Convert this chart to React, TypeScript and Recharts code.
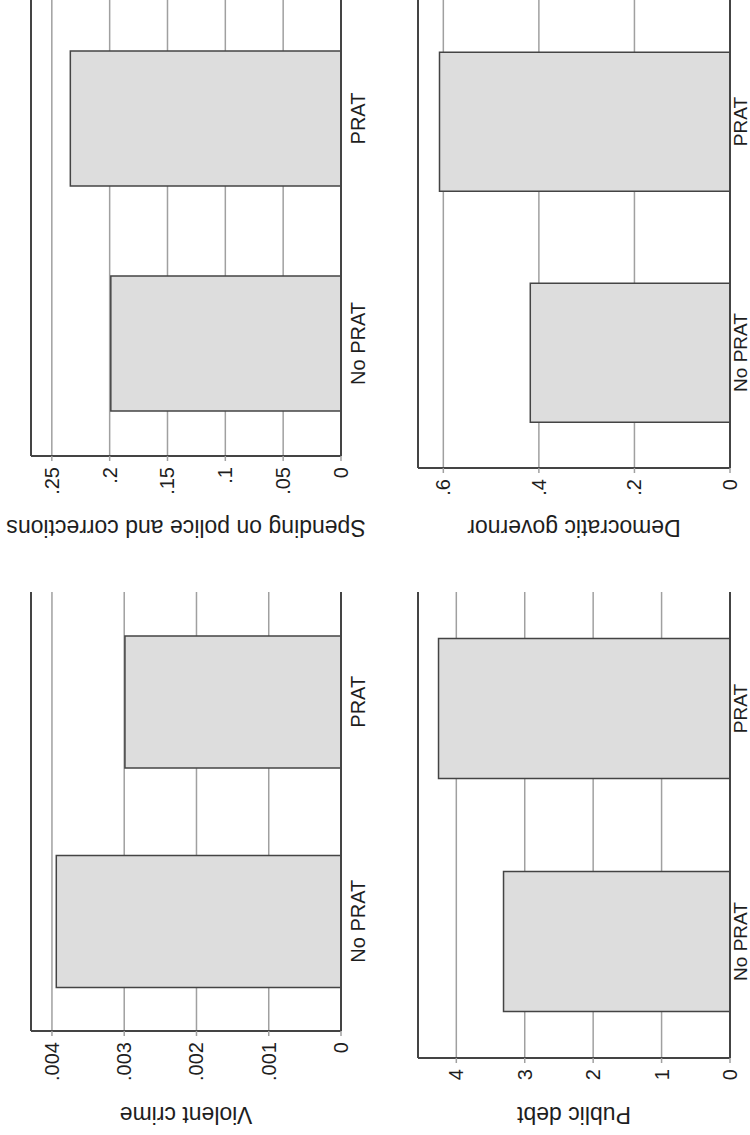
import {
  Bar,
  BarChart,
  CartesianGrid,
  Label,
  ReferenceLine,
  XAxis,
  YAxis,
} from "recharts";

// categories, bottom to top in each panel
const categories = ["No PRAT", "PRAT"];

// means
const violentCrime = [0.00394, 0.00299];
const policeSpending = [0.199, 0.234];
const publicDebt = [3.31, 4.26];
const democraticGovernor = [0.418, 0.608];

// value axis ticks and their Stata-style labels
const violentTicks = [0, 0.001, 0.002, 0.003, 0.004];
const violentTickLabels = ["0", ".001", ".002", ".003", ".004"];
const spendingTicks = [0, 0.05, 0.1, 0.15, 0.2, 0.25];
const spendingTickLabels = ["0", ".05", ".1", ".15", ".2", ".25"];
const debtTicks = [0, 1, 2, 3, 4];
const debtTickLabels = ["0", "1", "2", "3", "4"];
const governorTicks = [0, 0.2, 0.4, 0.6];
const governorTickLabels = ["0", ".2", ".4", ".6"];

const FONT = "'Liberation Sans', Arial, Helvetica, sans-serif";
const INK = "#1e1e1e";
const FRAME = "#444444";
const GRID = "#a0a0a0";
const BAR_FILL = "#dddddd";

interface PanelProps {
  title: string;
  values: number[];
  ticks: number[];
  tickLabels: string[];
  max: number;
  left: number;
  top: number;
  width: number;
  height: number;
  plotLeft: number;
  plotTop: number;
  axisHeight: number;
  catWidth: number;
  catGap: number;
  catFont: number;
  titleGap: number;
  padTop: number;
  closedTop: boolean;
}

// one panel of the (rotated) Stata combine graph
function Panel(p: PanelProps) {
  const data = categories.map((cat, i) => ({ cat, value: p.values[i] }));

  const valueTick = (t: any) => {
    const i = p.ticks.indexOf(t.payload.value);
    return (
      <text
        transform={`translate(${t.x},${t.y}) rotate(-90)`}
        textAnchor="end"
        dominantBaseline="central"
        fontSize={20}
        fill={INK}
        fontFamily={FONT}
      >
        {p.tickLabels[i]}
      </text>
    );
  };

  const catTick = (t: any) => (
    <text
      transform={`translate(${t.x},${t.y}) rotate(-90)`}
      textAnchor="middle"
      dominantBaseline="central"
      fontSize={p.catFont}
      fill={INK}
      fontFamily={FONT}
    >
      {t.payload.value}
    </text>
  );

  const title = (lp: any) => {
    const vb = lp.viewBox;
    return (
      <text
        transform={`translate(${vb.x + vb.width / 2},${vb.y + p.titleGap}) rotate(180)`}
        textAnchor="middle"
        dominantBaseline="central"
        fontSize={23}
        fill={INK}
        fontFamily={FONT}
      >
        {p.title}
      </text>
    );
  };

  return (
    <div style={{ position: "absolute", left: p.left, top: p.top }}>
      <BarChart
        layout="vertical"
        width={p.width}
        height={p.height}
        data={data}
        margin={{ top: p.plotTop, left: p.plotLeft, right: 0, bottom: 0 }}
        barCategoryGap="20%"
      >
        <CartesianGrid horizontal={false} stroke={GRID} strokeWidth={1.5} />
        {p.closedTop && (
          <XAxis
            xAxisId="top"
            orientation="top"
            type="number"
            domain={[0, p.max]}
            reversed
            height={0}
            tick={false}
            tickLine={false}
            axisLine={{ stroke: FRAME, strokeWidth: 2 }}
          />
        )}
        <XAxis
          type="number"
          domain={[0, p.max]}
          ticks={p.ticks}
          interval={0}
          reversed
          allowDataOverflow
          height={p.axisHeight}
          tickSize={5}
          tickMargin={6}
          tickLine={{ stroke: GRID, strokeWidth: 1.5 }}
          axisLine={{ stroke: FRAME, strokeWidth: 2 }}
          tick={valueTick}
        >
          <Label content={title} />
        </XAxis>
        <YAxis
          type="category"
          dataKey="cat"
          orientation="right"
          reversed
          interval={0}
          width={p.catWidth}
          padding={{ top: p.padTop, bottom: 0 }}
          tickSize={0}
          tickMargin={p.catGap}
          tickLine={false}
          axisLine={{ stroke: FRAME, strokeWidth: 2 }}
          tick={catTick}
        />
        <ReferenceLine x={p.max} stroke={FRAME} strokeWidth={2} />
        <Bar
          dataKey="value"
          fill={BAR_FILL}
          stroke={FRAME}
          strokeWidth={1.5}
          isAnimationActive={false}
        />
      </BarChart>
    </div>
  );
}

export default function App() {
  return (
    <div
      style={{
        position: "absolute",
        left: 0,
        top: 0,
        width: 750,
        height: 1135,
        background: "#fff",
        overflow: "hidden",
      }}
    >
      <Panel
        title="Spending on police and corrections"
        values={policeSpending}
        ticks={spendingTicks}
        tickLabels={spendingTickLabels}
        max={0.268}
        left={0}
        top={0}
        width={375}
        height={560}
        plotLeft={31}
        plotTop={0}
        axisHeight={104}
        catWidth={34}
        catGap={17}
        catFont={20}
        titleGap={72}
        padTop={6}
        closedTop={false}
      />
      <Panel
        title="Democratic governor"
        values={democraticGovernor}
        ticks={governorTicks}
        tickLabels={governorTickLabels}
        max={0.653}
        left={375}
        top={0}
        width={375}
        height={560}
        plotLeft={43}
        plotTop={0}
        axisHeight={92}
        catWidth={20}
        catGap={10}
        catFont={19}
        titleGap={60}
        padTop={6}
        closedTop={false}
      />
      <Panel
        title="Violent crime"
        values={violentCrime}
        ticks={violentTicks}
        tickLabels={violentTickLabels}
        max={0.00429}
        left={0}
        top={560}
        width={375}
        height={575}
        plotLeft={31}
        plotTop={32}
        axisHeight={104}
        catWidth={34}
        catGap={17}
        catFont={20}
        titleGap={84}
        padTop={0}
        closedTop={true}
      />
      <Panel
        title="Public debt"
        values={publicDebt}
        ticks={debtTicks}
        tickLabels={debtTickLabels}
        max={4.56}
        left={375}
        top={560}
        width={375}
        height={575}
        plotLeft={43}
        plotTop={32}
        axisHeight={77}
        catWidth={20}
        catGap={10}
        catFont={19}
        titleGap={57}
        padTop={0}
        closedTop={true}
      />
    </div>
  );
}
